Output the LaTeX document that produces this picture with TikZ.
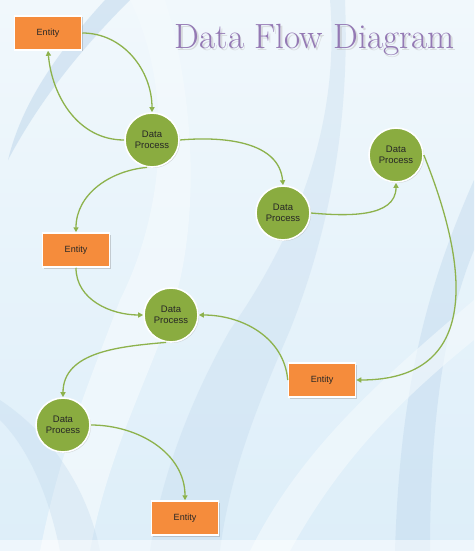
\documentclass[tikz,border=0pt]{standalone}
\usepackage{fontspec}
\usepackage{graphicx}
\setsansfont{Liberation Sans}
\usetikzlibrary{arrows.meta,shadows}
\definecolor{bgtop}{HTML}{F1F8FC}
\definecolor{bgbot}{HTML}{DDEEF9}
\definecolor{swoosh}{HTML}{BCD5EB}
\definecolor{swooshlt}{HTML}{F4FAFD}
\definecolor{entfill}{HTML}{F58C3C}
\definecolor{procfill}{HTML}{8AAC40}
\definecolor{flow}{HTML}{8DB24C}
\definecolor{titlecol}{HTML}{9479B4}
\tikzset{
  entity/.style={rectangle, minimum width=67pt, minimum height=34pt, fill=entfill,
    draw=white, line width=1.5pt, font=\sffamily\fontsize{9}{10}\selectfont, text=black!85,
    drop shadow={shadow xshift=1.5pt, shadow yshift=-1.5pt, opacity=0.35}},
  process/.style={circle, minimum size=54pt, inner sep=0pt, fill=procfill,
    draw=white, line width=1.6pt, font=\sffamily\fontsize{9.5}{11}\selectfont, text=black!85,
    align=center,
    drop shadow={shadow xshift=1pt, shadow yshift=-1pt, opacity=0.3}},
  flowline/.style={draw=flow, line width=1.3pt, -{Triangle[length=5pt,width=5pt]}},
}
\begin{document}
\begin{tikzpicture}[x=1pt,y=1pt]
\useasboundingbox (0,0) rectangle (474,-551);
% background
\shade[top color=bgtop, bottom color=bgbot] (0,0) rectangle (474,-551);
% swooshes
\fill[swoosh, opacity=0.5] (105,0) .. controls (50,-60) and (20,-110) .. (8,-160)
  .. controls (40,-100) and (80,-50) .. (130,0) -- cycle;
\fill[swooshlt, opacity=0.7] (130,0) .. controls (170,-80) and (170,-200) .. (120,-300)
  .. controls (90,-380) and (60,-450) .. (40,-551) -- (90,-551)
  .. controls (110,-440) and (160,-360) .. (180,-280)
  .. controls (200,-190) and (190,-80) .. (165,0) -- cycle;
\fill[swoosh, opacity=0.3] (330,0) .. controls (340,-120) and (300,-230) .. (230,-330)
  .. controls (190,-400) and (160,-480) .. (150,-551) -- (220,-551)
  .. controls (230,-470) and (260,-400) .. (290,-330)
  .. controls (330,-230) and (350,-120) .. (345,0) -- cycle;
\fill[swoosh, opacity=0.4] (474,-180) .. controls (430,-280) and (400,-380) .. (395,-551)
  -- (430,-551) .. controls (430,-420) and (445,-320) .. (474,-250) -- cycle;
\fill[swoosh, opacity=0.3] (0,-400) .. controls (60,-440) and (90,-500) .. (100,-551)
  -- (60,-551) .. controls (50,-500) and (30,-450) .. (0,-420) -- cycle;
\fill[swooshlt, opacity=0.6] (474,-300) .. controls (380,-380) and (300,-450) .. (250,-551)
  -- (290,-551) .. controls (340,-460) and (400,-400) .. (474,-340) -- cycle;
\fill[white, opacity=0.5] (0,-540) rectangle (474,-551);

% title
\node[text=gray!50, opacity=0.5] (tshadow) at (316.5,-41.5) {\resizebox{280pt}{!}{\fontsize{30}{32}\selectfont Data Flow Diagram}};
\node[text=titlecol] (title) at (315,-40) {\resizebox{280pt}{!}{\fontsize{30}{32}\selectfont Data Flow Diagram}};

% nodes
\node[entity] (e1) at (48,-33) {Entity};
\node[process] (d1) at (152,-140) {Data\\Process};
\node[process] (d2) at (283,-213) {Data\\Process};
\node[process] (d3) at (396,-155) {Data\\Process};
\node[entity] (e2) at (76,-250) {Entity};
\node[process] (d4) at (171,-315) {Data\\Process};
\node[entity] (e3) at (322,-380) {Entity};
\node[process] (d5) at (63,-425) {Data\\Process};
\node[entity] (e4) at (185,-518) {Entity};

% flows
\draw[flowline] (e1.east) to[out=0,in=90] (d1.north);
\draw[flowline] (d1.west) to[out=180,in=-85] (e1.south);
\draw[flowline] (d1.east) to[out=5,in=95] (d2.north);
\draw[flowline] (d2.east) to[out=-5,in=-90] (d3.south);
\draw[flowline] (d1.-100) to[out=185,in=90] (e2.north);
\draw[flowline] (d3.east) to[out=-68,in=0,looseness=1.35] (e3.east);
\draw[flowline] (e2.south) to[out=-90,in=180] (d4.west);
\draw[flowline] (e3.west) to[out=95,in=0] (d4.east);
\draw[flowline] (d4.-100) to[out=185,in=90] (d5.north);
\draw[flowline] (d5.east) to[out=0,in=90] (e4.north);
\end{tikzpicture}
\end{document}
